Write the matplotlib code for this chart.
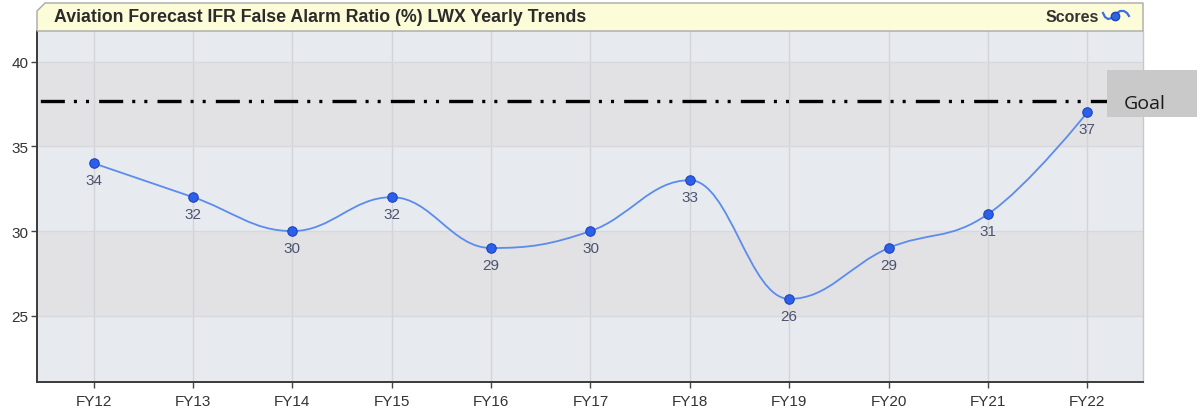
import numpy as np
import matplotlib
matplotlib.use("Agg")
import matplotlib.pyplot as plt
from matplotlib.path import Path
from matplotlib.patches import PathPatch, Polygon, Rectangle
from matplotlib.lines import Line2D

plt.rcParams['font.family'] = ['Liberation Sans', 'DejaVu Sans']
plt.rcParams['lines.scale_dashes'] = False

categories = ["FY12", "FY13", "FY14", "FY15", "FY16", "FY17", "FY18", "FY19", "FY20", "FY21", "FY22"]
scores = [34, 32, 30, 32, 29, 30, 33, 26, 29, 31, 37]
goal = 37.7
yticks = [25, 30, 35, 40]
title = "Aviation Forecast IFR False Alarm Ratio (%) LWX Yearly Trends"

W, H = 1197, 410
fig = plt.figure(figsize=(W / 100, H / 100), dpi=100)
fig.patch.set_facecolor("white")

def fx(px):
    return px / W

def fy(py):
    return 1 - py / H

ax_l, ax_r, ax_t, ax_b = 37, 1143, 32, 383
ax = fig.add_axes([fx(ax_l), fy(ax_b), fx(ax_r - ax_l), (ax_b - ax_t) / H])
ymin, ymax = 21.1, 41.8
ax.set_xlim(-0.57, len(categories) - 1 + 0.56)
ax.set_ylim(ymin, ymax)

# alternating bands
light, dark = "#e7eaee", "#e2e2e5"
edges = [ymin, 25, 30, 35, 40, ymax]
for i in range(len(edges) - 1):
    ax.axhspan(edges[i], edges[i + 1], color=light if i % 2 == 0 else dark, zorder=0, lw=0)

# grid
for i in range(len(categories)):
    ax.axvline(i, color="#d3d4d7", lw=1.0, zorder=1)
for t in yticks:
    ax.axhline(t, color="#d7d8db", lw=1.0, zorder=1)

# Highcharts-like spline
xs = np.arange(len(scores), dtype=float)
ys = np.array(scores, dtype=float)
n = len(xs)
lc = [None] * n
rc = [None] * n
sm, den = 1.5, 2.5
for i in range(1, n - 1):
    px, py = xs[i], ys[i]
    lx_, ly_ = xs[i - 1], ys[i - 1]
    nx_, ny_ = xs[i + 1], ys[i + 1]
    lcx = (sm * px + lx_) / den
    lcy = (sm * py + ly_) / den
    rcx = (sm * px + nx_) / den
    rcy = (sm * py + ny_) / den
    corr = ((rcy - lcy) * (rcx - px)) / (rcx - lcx) + py - rcy
    lcy += corr
    rcy += corr
    if lcy > ly_ and lcy > py:
        lcy = max(ly_, py); rcy = 2 * py - lcy
    elif lcy < ly_ and lcy < py:
        lcy = min(ly_, py); rcy = 2 * py - lcy
    if rcy > ny_ and rcy > py:
        rcy = max(ny_, py); lcy = 2 * py - rcy
    elif rcy < ny_ and rcy < py:
        rcy = min(ny_, py); lcy = 2 * py - rcy
    lc[i] = (lcx, lcy)
    rc[i] = (rcx, rcy)

verts = [(xs[0], ys[0])]
codes = [Path.MOVETO]
for i in range(1, n):
    c1 = rc[i - 1] if rc[i - 1] is not None else (xs[i - 1], ys[i - 1])
    c2 = lc[i] if lc[i] is not None else (xs[i], ys[i])
    verts += [c1, c2, (xs[i], ys[i])]
    codes += [Path.CURVE4] * 3
ax.add_patch(PathPatch(Path(verts, codes), facecolor="none", edgecolor="#5b8cec", lw=1.3, zorder=3))

# goal line (dash-dot-dot)
ax.axhline(goal, color="black", lw=2.4, zorder=4,
           linestyle=(39.6, (17.3, 6.5, 2.2, 6.5, 2.2, 7.3)), dash_capstyle="butt")

ax.plot(xs, ys, "o", ms=6.8, mfc="#2c60ea", mec="#1d44b8", mew=0.8, zorder=5)
for x, y in zip(xs, ys):
    ax.annotate(f"{int(y)}", (x, y), xytext=(0, -7), textcoords="offset points",
                ha="center", va="top", fontsize=11, color="#4a5470", zorder=6)

ax.set_xticks(xs)
ax.set_xticklabels(categories)
ax.set_yticks(yticks)
ax.tick_params(axis="both", labelsize=11, labelcolor="#333333", color="#444444",
               length=4, width=1.0)
ax.tick_params(axis="x", pad=5)
ax.tick_params(axis="y", pad=2)
ax.spines["top"].set_visible(False)
ax.spines["right"].set_color("#c8c8c8")
ax.spines["right"].set_linewidth(1.0)
for s in ["left", "bottom"]:
    ax.spines[s].set_color("#3a3a3a")
    ax.spines[s].set_linewidth(1.4)

# title bar
pts = [(37, 32), (37, 12), (45, 4), (1143, 4), (1143, 32)]
fig.patches.append(Polygon([(fx(a), fy(b)) for a, b in pts], closed=True,
                           transform=fig.transFigure, facecolor="#fdfcd8",
                           edgecolor="#a8a8a8", lw=1.0, zorder=1))
fig.text(fx(54), fy(18), title, ha="left", va="center", fontsize=12.75,
         fontweight="bold", color="#2b2b2b")
fig.text(fx(1099), fy(18), "Scores", ha="right", va="center", fontsize=11.5,
         fontweight="bold", color="#333333")
# legend icon
ix = np.array([1103, 1105, 1108, 1112, 1116])
iy = np.array([14, 18, 20, 19, 17])
fig.add_artist(Line2D(fx(ix), fy(iy), transform=fig.transFigure, color="#3a6ee8", lw=1.6))
jx = np.array([1116, 1120, 1124, 1127, 1129])
jy = np.array([15, 12, 12, 14, 17])
fig.add_artist(Line2D(fx(jx), fy(jy), transform=fig.transFigure, color="#3a6ee8", lw=1.6))
fig.add_artist(Line2D([fx(1115)], [fy(16.5)], transform=fig.transFigure, marker="o",
                      ms=6, mfc="#2f63e6", mec="#1d44b8", lw=0))

# goal box
fig.patches.append(Rectangle((fx(1107), fy(118)), fx(1197 - 1107), (118 - 71) / H,
                             transform=fig.transFigure, facecolor="#c9c9c9",
                             edgecolor="none", zorder=1))
fig.text(fx(1124), fy(104), "Goal", ha="left", va="center", fontsize=14,
         family=["Open Sans", "DejaVu Sans"], color="#1a1a1a")

fig.savefig("out.png", dpi=100, facecolor="white")
